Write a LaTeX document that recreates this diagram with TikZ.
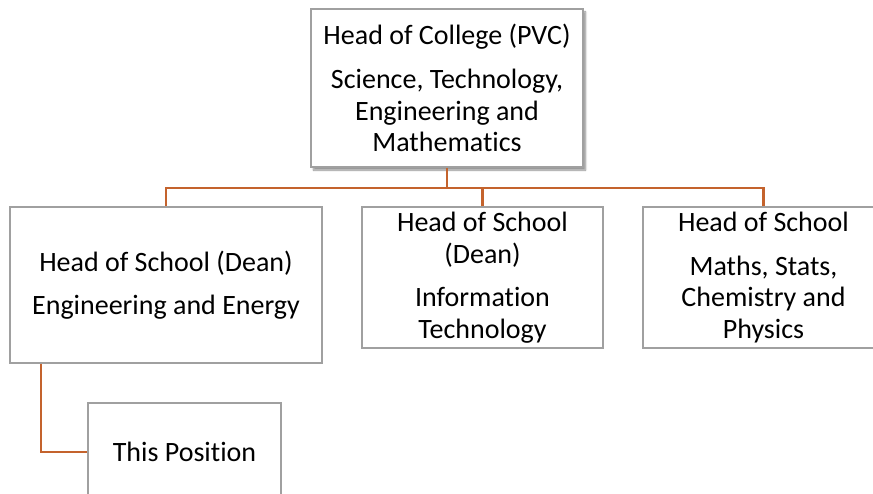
\documentclass[tikz,border=0pt]{standalone}
\usepackage{fontspec}
\setmainfont{Carlito}[Ligatures=NoCommon]
\usepackage{tikz}
\usetikzlibrary{positioning, calc, shadows.blur}
\definecolor{boxgrey}{RGB}{160,160,160}
\definecolor{linkorange}{RGB}{196,99,45}
\tikzset{
  post/.style={
    rectangle, draw=boxgrey, line width=1.5pt, fill=white,
    align=center, inner sep=0pt,
    font=\fontsize{28}{31.5}\selectfont
  },
  link/.style={
    draw=linkorange, line width=2.2pt
  }
}

\begin{document}
\begin{tikzpicture}[x=1pt, y=1pt]

\useasboundingbox (0,0) rectangle (873,-494);
\clip (0,0) rectangle (873,-494);

\node[post, minimum width=272pt, minimum height=158pt,
  blur shadow={shadow xshift=2.5pt, shadow yshift=-3pt, shadow opacity=45, shadow blur steps=6}]
  (college) at (447,-88) {Head of College (PVC)\\[13pt] Science, Technology,\\ Engineering and\\ Mathematics};

\coordinate (bus) at (447,-188);

\node[post, minimum width=312pt, minimum height=156pt] (eng) at (166,-285)
  {Head of School (Dean)\\[12pt] Engineering and Energy};
\node[post, minimum width=241pt, minimum height=141pt] (it) at (482.5,-277.5)
  {Head of School\\ (Dean)\\[12pt] Information\\ Technology};
\node[post, minimum width=241pt, minimum height=141pt] (maths) at (763.5,-277.5)
  {Head of School\\[12pt] Maths, Stats,\\ Chemistry and\\ Physics};

\node[post, minimum width=193pt, minimum height=98pt] (position) at (184.5,-452)
  {This Position};

% connectors
\draw[link] (college.south) -- (college.south |- bus);
\draw[link] (eng.north) |- (maths.north |- bus) -- (maths.north);
\draw[link] (it.north) -- (it.north |- bus);
\draw[link] ([xshift=-125pt]eng.south) |- (position.west);

\end{tikzpicture}
\end{document}
